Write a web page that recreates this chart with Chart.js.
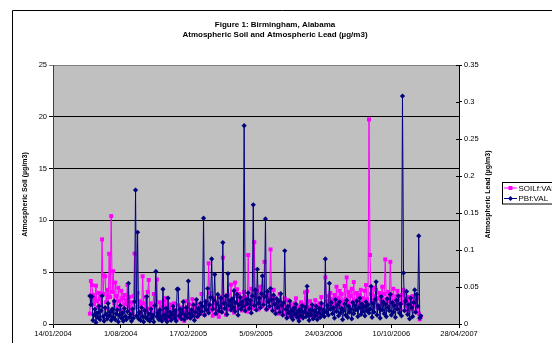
<!DOCTYPE html>
<html><head><meta charset="utf-8">
<script src="https://cdn.jsdelivr.net/npm/chart.js@4"></script>
<style>html,body{margin:0;padding:0;background:#fff;overflow:hidden}canvas{display:block}</style>
</head><body>
<canvas id="c" width="552" height="343"></canvas>
<script>
// Sample dates as Excel serial day numbers (38000 = 14/01/2004)
const sampleDays = [
38109,38112,38115,38118,38121,38124,38127,38130,38133,38136,
38139,38142,38145,38148,38151,38154,38157,38160,38163,38166,
38169,38172,38175,38178,38181,38184,38187,38190,38193,38196,
38199,38202,38205,38208,38211,38214,38217,38220,38223,38226,
38229,38232,38235,38238,38241,38244,38247,38250,38253,38256,
38259,38262,38265,38268,38271,38274,38277,38280,38283,38286,
38289,38292,38295,38298,38301,38304,38307,38310,38313,38316,
38319,38322,38325,38328,38331,38334,38337,38340,38343,38346,
38349,38352,38355,38358,38361,38364,38367,38370,38373,38376,
38379,38382,38385,38388,38391,38394,38397,38400,38403,38406,
38409,38412,38415,38418,38421,38424,38427,38430,38433,38436,
38439,38442,38445,38448,38451,38454,38457,38460,38463,38466,
38469,38472,38475,38478,38481,38484,38487,38490,38493,38496,
38499,38502,38505,38508,38511,38514,38517,38520,38523,38526,
38529,38532,38535,38538,38541,38544,38547,38550,38553,38556,
38559,38562,38565,38568,38571,38574,38577,38580,38583,38586,
38589,38592,38595,38598,38601,38604,38607,38610,38613,38616,
38619,38622,38625,38628,38631,38634,38637,38640,38643,38646,
38649,38652,38655,38658,38661,38664,38667,38670,38673,38676,
38679,38682,38685,38688,38691,38694,38697,38700,38703,38706,
38709,38712,38715,38718,38721,38724,38727,38730,38733,38736,
38739,38742,38745,38748,38751,38754,38757,38760,38763,38766,
38769,38772,38775,38778,38781,38784,38787,38790,38793,38796,
38799,38802,38805,38808,38811,38814,38817,38820,38823,38826,
38829,38832,38835,38838,38841,38844,38847,38850,38853,38856,
38859,38862,38865,38868,38871,38874,38877,38880,38883,38886,
38889,38892,38895,38898,38901,38904,38907,38910,38913,38916,
38919,38922,38925,38928,38931,38934,38937,38940,38943,38946,
38949,38952,38955,38958,38961,38964,38967,38970,38973,38976,
38979,38982,38985,38988,38991,38994,38997,39000,39003,39006,
39009,39012,39015,39018,39021,39024,39027,39030,39033,39036,
39039,39042,39045,39048,39051,39054,39057,39060,39063,39066,
39069,39072,39075,39078,39081,39084,39087
];

// SOILf:VAL (left axis, µg/m3)
const soilValues = [
1.0,4.15,3.76,2.8,1.9,2.5,3.7,2.2,1.6,3.0,
2.4,1.8,8.17,2.9,4.7,4.6,2.1,3.3,1.5,6.78,
2.6,10.42,3.1,5.1,2.0,4.0,2.7,1.6,3.5,2.2,
1.4,3.2,2.5,1.2,2.8,1.9,2.3,3.76,1.7,2.6,
1.3,2.1,1.0,2.7,6.8,2.4,1.6,3.0,1.1,2.2,
1.8,0.9,4.6,2.0,1.4,2.6,1.2,3.1,4.25,1.5,
2.0,0.8,1.6,2.9,1.1,1.9,4.3,1.3,0.7,2.1,
1.0,1.7,0.6,2.3,1.2,2.5,0.8,1.5,0.4,1.9,
1.1,0.6,1.4,2.0,0.9,1.3,0.5,1.8,1.0,0.7,
1.6,0.8,1.2,0.3,2.2,1.0,1.5,0.9,1.9,0.6,
1.3,2.4,0.8,1.7,1.1,2.0,0.7,1.4,1.8,1.0,
2.9,1.2,1.6,0.9,2.2,1.4,1.9,5.86,3.0,1.3,
1.8,0.8,2.5,1.5,1.0,2.1,1.3,0.7,2.6,1.7,
1.2,6.4,2.3,1.5,0.9,1.9,2.8,1.4,2.2,3.8,
1.6,2.4,1.1,4.0,2.7,3.35,1.5,2.9,1.8,2.5,
1.3,2.0,3.1,1.7,2.6,1.2,6.66,2.3,1.9,3.4,
2.1,1.5,7.9,2.8,1.8,3.2,1.4,2.5,3.6,2.0,
1.7,2.9,6.0,2.2,1.4,3.0,2.4,1.6,7.2,2.7,
1.9,3.3,1.3,2.5,1.8,2.2,1.0,2.9,1.5,2.0,
1.2,1.8,2.48,0.9,1.6,2.3,1.1,0.7,1.9,1.3,
0.8,1.5,2.0,2.48,1.0,1.7,0.6,1.3,2.1,0.9,
1.4,1.9,3.06,1.1,3.15,1.6,0.8,2.2,1.2,1.7,
0.7,1.5,2.3,1.0,1.8,0.9,2.0,1.3,2.6,1.1,
1.9,1.4,4.5,2.2,1.2,2.7,1.6,3.0,1.8,2.4,
1.5,2.8,2.0,3.6,1.7,2.5,3.2,1.9,2.9,2.2,
1.6,3.67,2.4,4.5,2.0,3.1,1.8,2.7,3.4,2.1,
4.05,2.3,1.9,3.0,2.6,1.5,2.8,3.3,2.0,2.5,
1.7,3.2,3.76,2.4,1.9,19.75,6.66,2.9,2.2,3.5,
2.0,2.7,3.3,1.6,2.5,3.0,1.8,2.3,3.6,2.1,
2.9,6.24,2.4,1.7,3.1,2.2,6.0,2.8,1.9,3.4,
2.3,1.6,2.7,3.2,1.9,2.5,1.4,2.8,2.0,3.3,
3.0,1.7,2.4,1.3,2.6,1.9,2.2,1.5,2.7,1.8,
2.1,1.2,2.5,1.6,1.0,0.45,0.7
];

// PBf:VAL (right axis, µg/m3)
const leadValues = [
0.038,0.026,0.037,0.005,0.012,0.020,0.002,0.015,0.009,0.024,
0.006,0.018,0.038,0.010,0.004,0.022,0.013,0.007,0.028,0.011,
0.016,0.005,0.020,0.009,0.031,0.006,0.014,0.019,0.003,0.012,
0.025,0.008,0.015,0.004,0.021,0.010,0.006,0.017,0.055,0.009,
0.013,0.004,0.020,0.008,0.030,0.181,0.011,0.124,0.007,0.016,
0.005,0.022,0.010,0.003,0.018,0.009,0.037,0.006,0.014,0.004,
0.020,0.008,0.012,0.003,0.025,0.071,0.010,0.015,0.006,0.019,
0.009,0.004,0.047,0.012,0.007,0.021,0.003,0.035,0.010,0.016,
0.005,0.013,0.024,0.008,0.018,0.004,0.047,0.047,0.011,0.020,
0.007,0.015,0.030,0.006,0.012,0.022,0.009,0.058,0.014,0.008,
0.019,0.011,0.026,0.005,0.016,0.033,0.010,0.021,0.013,0.028,
0.017,0.024,0.143,0.012,0.030,0.019,0.048,0.015,0.026,0.036,
0.088,0.020,0.032,0.067,0.014,0.027,0.040,0.018,0.023,0.035,
0.016,0.110,0.028,0.021,0.038,0.013,0.068,0.025,0.031,0.019,
0.034,0.022,0.045,0.017,0.029,0.040,0.012,0.026,0.036,0.020,
0.030,0.024,0.268,0.018,0.033,0.027,0.042,0.021,0.032,0.015,
0.038,0.161,0.025,0.046,0.019,0.074,0.028,0.035,0.022,0.041,
0.065,0.026,0.037,0.142,0.020,0.044,0.030,0.024,0.048,0.033,
0.018,0.039,0.027,0.014,0.034,0.022,0.031,0.016,0.041,0.025,
0.012,0.029,0.099,0.020,0.008,0.024,0.015,0.031,0.010,0.018,
0.006,0.022,0.013,0.027,0.009,0.017,0.004,0.020,0.011,0.025,
0.008,0.016,0.023,0.010,0.051,0.014,0.005,0.019,0.012,0.026,
0.007,0.018,0.011,0.024,0.006,0.015,0.021,0.009,0.028,0.013,
0.019,0.010,0.088,0.016,0.025,0.012,0.055,0.020,0.029,0.014,
0.022,0.008,0.033,0.017,0.026,0.011,0.030,0.015,0.021,0.006,
0.018,0.027,0.012,0.032,0.009,0.024,0.016,0.020,0.007,0.029,
0.014,0.025,0.019,0.031,0.010,0.022,0.035,0.013,0.027,0.017,
0.024,0.011,0.030,0.018,0.026,0.015,0.020,0.051,0.009,0.028,
0.016,0.033,0.057,0.012,0.025,0.021,0.008,0.037,0.019,0.030,
0.014,0.027,0.010,0.034,0.022,0.018,0.040,0.012,0.029,0.016,
0.025,0.009,0.032,0.020,0.038,0.015,0.027,0.011,0.308,0.069,
0.018,0.031,0.044,0.013,0.026,0.007,0.035,0.022,0.010,0.029,
0.046,0.016,0.040,0.024,0.119,0.008,0.011
];

const xTickDays = [38000,38200,38400,38600,38800,39000,39200];
const xTickLabels = ['14/01/2004','1/08/2004','17/02/2005','5/09/2005','24/03/2006','10/10/2006','28/04/2007'];
const titleLines = ['Figure 1: Birmingham, Alabama','Atmospheric Soil and Atmospheric Lead (\u00b5g/m3)'];
const leftTitle = 'Atmospheric Soil (\u00b5g/m3)';
const rightTitle = 'Atmospheric Lead (\u00b5g/m3)';
const seriesNames = ['SOILf:VAL','PBf:VAL'];

const FONT = '"Liberation Sans", Arial, sans-serif';
const SOIL_COLOR = '#FF00FF';
const LEAD_COLOR = '#000080';

const soilPts = sampleDays.map((d,i)=>({x:d,y:soilValues[i]})).filter(p=>p.y!==undefined);
const leadPts = sampleDays.map((d,i)=>({x:d,y:leadValues[i]})).filter(p=>p.y!==undefined);

const deco = {
  id:'deco',
  beforeDraw(chart){
    const {ctx, chartArea:a} = chart;
    ctx.save();
    ctx.fillStyle='#fff'; ctx.fillRect(0,0,chart.width,chart.height);
    ctx.strokeStyle='#000'; ctx.lineWidth=1;
    ctx.beginPath(); ctx.moveTo(12.5,chart.height); ctx.lineTo(12.5,10.5); ctx.lineTo(chart.width,10.5); ctx.stroke();
    ctx.fillStyle='#C0C0C0'; ctx.fillRect(a.left,a.top,a.right-a.left,a.bottom-a.top);
    ctx.restore();
  },
  afterDraw(chart){
    const {ctx, chartArea:a} = chart;
    ctx.save();
    ctx.fillStyle='#000';
    ctx.textAlign='center'; ctx.textBaseline='middle';
    ctx.font='bold 8px '+FONT;
    ctx.fillText(titleLines[0],275,25);
    ctx.fillText(titleLines[1],275,35);
    ctx.font='bold 7px '+FONT;
    const cy=(a.top+a.bottom)/2;
    ctx.save(); ctx.translate(25,cy); ctx.rotate(-Math.PI/2); ctx.fillText(leftTitle,0,0); ctx.restore();
    ctx.save(); ctx.translate(488,cy); ctx.rotate(-Math.PI/2); ctx.fillText(rightTitle,0,0); ctx.restore();
    // right axis cross ticks (inner part)
    const y1=chart.scales.y1;
    ctx.strokeStyle='#000'; ctx.lineWidth=1;
    y1.ticks.forEach(t=>{const py=Math.round(y1.getPixelForValue(t.value))+0.5; ctx.beginPath(); ctx.moveTo(a.right-3,py); ctx.lineTo(a.right,py); ctx.stroke();});
    // legend
    const lx=502.5, ly=182.5;
    ctx.fillStyle='#fff'; ctx.fillRect(lx,ly,chart.width-lx+2,21.5);
    ctx.strokeStyle='#000'; ctx.strokeRect(lx,ly,chart.width-lx+2,21.5);
    const items=[[seriesNames[0],SOIL_COLOR,'sq',188],[seriesNames[1],LEAD_COLOR,'dm',198.5]];
    ctx.font='8px '+FONT; ctx.textAlign='left';
    items.forEach(([txt,col,shape,y])=>{
      ctx.strokeStyle=col; ctx.fillStyle=col; ctx.lineWidth=1;
      ctx.beginPath(); ctx.moveTo(504,y); ctx.lineTo(517,y); ctx.stroke();
      if(shape==='sq'){ctx.fillRect(508.5,y-2,4,4);}
      else{ctx.beginPath(); ctx.moveTo(510.5,y-2.5); ctx.lineTo(513,y); ctx.lineTo(510.5,y+2.5); ctx.lineTo(508,y); ctx.closePath(); ctx.fill();}
      ctx.fillStyle='#000'; ctx.fillText(txt,518.5,y+0.5);
    });
    ctx.restore();
  }
};

new Chart(document.getElementById('c'),{
  type:'line',
  data:{datasets:[
    {label:seriesNames[0],data:soilPts,yAxisID:'y',borderColor:SOIL_COLOR,backgroundColor:SOIL_COLOR,borderWidth:1,pointStyle:'rect',pointRadius:2.8,pointBorderWidth:0,tension:0,order:2},
    {label:seriesNames[1],data:leadPts,yAxisID:'y1',borderColor:LEAD_COLOR,backgroundColor:LEAD_COLOR,borderWidth:1,pointStyle:'rectRot',pointRadius:2.6,pointBorderWidth:0,tension:0,order:1}
  ]},
  options:{
    responsive:false, animation:false, devicePixelRatio:1,
    layout:{padding:{top:65,left:0,right:0,bottom:0}},
    plugins:{legend:{display:false},tooltip:{enabled:false},title:{display:false}},
    scales:{
      x:{type:'linear',min:38000,max:39200,
        afterBuildTicks:s=>{s.ticks=xTickDays.map(v=>({value:v}));},
        afterFit:s=>{s.height=19;},
        ticks:{autoSkip:false,maxRotation:0,padding:1,color:'#000',font:{family:FONT,size:7.5},callback:v=>xTickLabels[xTickDays.indexOf(v)]},
        grid:{drawOnChartArea:false,drawTicks:true,tickLength:4,color:'#000'},
        border:{color:'#000',width:1}
      },
      y:{position:'left',min:0,max:25,
        afterFit:s=>{s.width=53;},
        ticks:{stepSize:5,padding:2,color:'#000',font:{family:FONT,size:7.5}},
        grid:{color:c=>(c.tick&&c.tick.value===25)?'#808080':'#000',tickLength:4,lineWidth:1},
        border:{color:'#404040',width:1}
      },
      y1:{position:'right',min:0,max:0.35,
        afterFit:s=>{s.width=93;},
        ticks:{stepSize:0.05,padding:2,color:'#000',font:{family:FONT,size:7.5},callback:v=>String(+v.toFixed(2))},
        grid:{drawOnChartArea:false,tickLength:3,color:'#000'},
        border:{color:'#000',width:1}
      }
    }
  },
  plugins:[deco]
});
</script>
</body></html>
